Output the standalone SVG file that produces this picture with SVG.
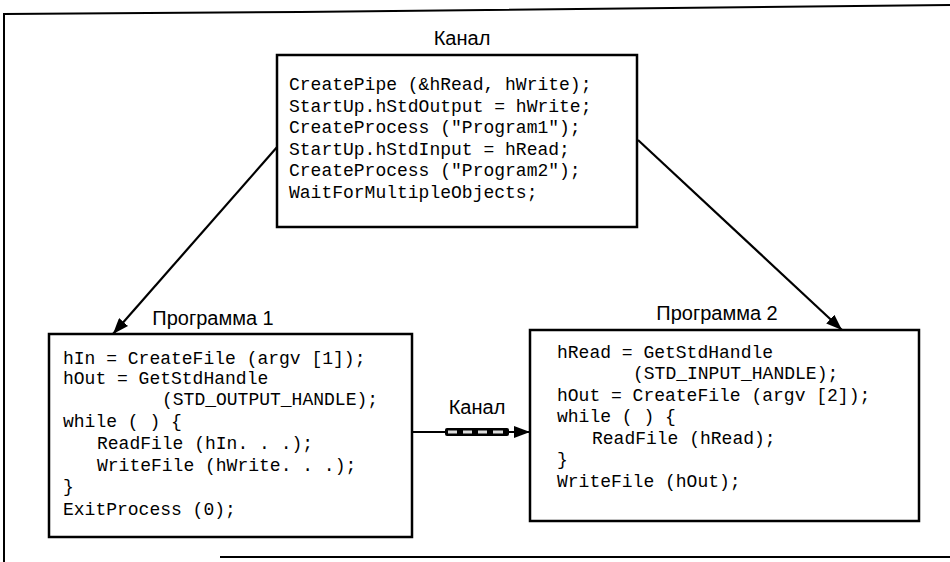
<svg xmlns="http://www.w3.org/2000/svg" width="950" height="562" viewBox="0 0 950 562">
<defs>
<style>
.box{fill:#fff;stroke:#000;stroke-width:2.5}
.code{font-family:"Liberation Mono","Courier New",monospace;font-size:18px;fill:#000}
.lbl{font-family:"Liberation Sans",Arial,sans-serif;font-size:20px;fill:#000;text-anchor:middle}
.conn{stroke:#000;stroke-width:2.2;fill:none}
.frame{stroke:#000;stroke-width:2;fill:none}
</style>
<marker id="ah" viewBox="0 0 16 12" refX="16" refY="6" markerWidth="16" markerHeight="12" markerUnits="userSpaceOnUse" orient="auto">
<path d="M0,0 L16,6 L0,12 Z" fill="#000"/>
</marker>
</defs>
<rect width="950" height="562" fill="#fff"/>
<g id="frame">
<polyline class="frame" points="4,562 4,14 300,12 950,5"/>
<line class="frame" x1="220" y1="557" x2="950" y2="557"/>
</g>
<g id="connectors">
<line class="conn" x1="278" y1="146" x2="113" y2="334" marker-end="url(#ah)"/>
<line class="conn" x1="638" y1="140" x2="842" y2="330" marker-end="url(#ah)"/>
<line class="conn" x1="412" y1="432" x2="530" y2="432" marker-end="url(#ah)"/>
<g id="pipe">
<rect x="445" y="428" width="64" height="8" rx="2" fill="#000"/>
<rect x="448" y="430.5" width="9" height="3" fill="#ddd"/>
<rect x="463" y="430.5" width="9" height="3" fill="#ddd"/>
<rect x="478" y="430.5" width="9" height="3" fill="#ddd"/>
<rect x="493" y="430.5" width="10" height="3" fill="#ddd"/>
</g>
<text class="lbl" x="477" y="414">Канал</text>
</g>
<g id="main">
<text class="lbl" x="462" y="45">Канал</text>
<rect class="box" x="277" y="55" width="360" height="172"/>
<text class="code" x="289" y="90">CreatePipe (&amp;hRead, hWrite);</text>
<text class="code" x="289" y="111.5">StartUp.hStdOutput = hWrite;</text>
<text class="code" x="289" y="133">CreateProcess ("Program1");</text>
<text class="code" x="289" y="154.5">StartUp.hStdInput = hRead;</text>
<text class="code" x="289" y="176">CreateProcess ("Program2");</text>
<text class="code" x="289" y="197.5">WaitForMultipleObjects;</text>
</g>
<g id="program1">
<text class="lbl" x="213" y="325">Программа 1</text>
<rect class="box" x="49" y="334" width="363" height="203"/>
<text class="code" x="63" y="363.5">hIn = CreateFile (argv [1]);</text>
<text class="code" x="63" y="384">hOut = GetStdHandle</text>
<text class="code" x="162" y="405">(STD_OUTPUT_HANDLE);</text>
<text class="code" x="63" y="426.5">while ( ) {</text>
<text class="code" x="97" y="449">ReadFile (hIn. . .);</text>
<text class="code" x="97" y="470.5">WriteFile (hWrite. . .);</text>
<text class="code" x="63" y="492">}</text>
<text class="code" x="63" y="514.5">ExitProcess (0);</text>
</g>
<g id="program2">
<text class="lbl" x="717" y="320">Программа 2</text>
<rect class="box" x="530" y="330" width="389" height="191"/>
<text class="code" x="557" y="357.5">hRead = GetStdHandle</text>
<text class="code" x="633" y="378.5">(STD_INPUT_HANDLE);</text>
<text class="code" x="557" y="400.5">hOut = CreateFile (argv [2]);</text>
<text class="code" x="557" y="422">while ( ) {</text>
<text class="code" x="592" y="443.5">ReadFile (hRead);</text>
<text class="code" x="557" y="465">}</text>
<text class="code" x="557" y="487">WriteFile (hOut);</text>
</g>
</svg>
